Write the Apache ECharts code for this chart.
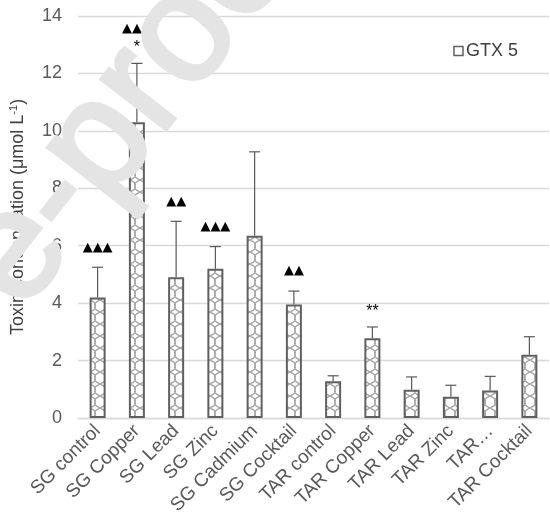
<!DOCTYPE html>
<html>
<head>
<meta charset="utf-8">
<script src="https://cdn.jsdelivr.net/npm/echarts@6/dist/echarts.min.js"></script>
<style>
  html, body { margin: 0; padding: 0; background: #fff; }
  #chart { width: 550px; height: 529px; }
</style>
</head>
<body>
<div id="chart"></div>
<script>
// Treatments on the x axis
const categories = ['SG control', 'SG Copper', 'SG Lead', 'SG Zinc', 'SG Cadmium', 'SG Cocktail',
  'TAR control', 'TAR Copper', 'TAR Lead', 'TAR Zinc', 'TAR Cadmium', 'TAR Cocktail'];
// Labels printed under the axis (one name is cut short)
const tickLabels = ['SG control', 'SG Copper', 'SG Lead', 'SG Zinc', 'SG Cadmium', 'SG Cocktail',
  'TAR control', 'TAR Copper', 'TAR Lead', 'TAR Zinc', 'TAR…', 'TAR Cocktail'];
// GTX 5 mean concentration (µmol L-1)
const gtx5 = [4.2, 10.3, 4.9, 5.2, 6.35, 3.95, 1.28, 2.78, 0.98, 0.74, 0.96, 2.2];
// Upper error (standard deviation)
const gtx5Err = [1.05, 2.05, 1.95, 0.77, 2.92, 0.47, 0.19, 0.39, 0.45, 0.40, 0.49, 0.63];
// Significance marks: number of triangles and of asterisks per treatment
const triangles = [3, 3, 2, 3, 0, 2, 0, 0, 0, 0, 0, 0];
const asterisks = [0, 1, 0, 0, 0, 0, 0, 2, 0, 0, 0, 0];
// y axis ticks
const yMin = 0, yMax = 14, yStep = 2;

// Hatched fill for the bars
function makePattern() {
  const c = document.createElement('canvas');
  c.width = 10; c.height = 12;
  const g = c.getContext('2d');
  g.fillStyle = '#ffffff';
  g.fillRect(0, 0, 10, 12);
  g.strokeStyle = '#a6a6a6';
  g.lineWidth = 1.2;
  g.beginPath();
  g.moveTo(0, 0); g.quadraticCurveTo(7, 3, 5, 6); g.quadraticCurveTo(3, 9, 10, 12);
  g.moveTo(10, 0); g.quadraticCurveTo(3, 3, 5, 6); g.quadraticCurveTo(7, 9, 0, 12);
  g.stroke();
  return c;
}

function markText(i) {
  const parts = [];
  if (triangles[i]) parts.push('{tri|' + '▲'.repeat(triangles[i]) + '}');
  if (asterisks[i]) parts.push('{ast|' + '*'.repeat(asterisks[i]) + '}');
  return parts.join('\n');
}

const errData = categories.map((c, i) => [i, gtx5[i], gtx5Err[i]]);

const chart = echarts.init(document.getElementById('chart'), null, { renderer: 'canvas' });
const font = 'Liberation Sans, Arial, sans-serif';

chart.setOption({
  animation: false,
  textStyle: { fontFamily: font },
  grid: { left: 77, right: 1, top: 16, bottom: 111, containLabel: false },
  legend: {
    right: 27, top: 37,
    itemWidth: 9, itemHeight: 9, itemGap: 4,
    textStyle: { fontSize: 18, color: '#404040', fontFamily: font, padding: [0, 0, 0, -2] },
    data: [{ name: 'GTX 5', icon: 'rect', itemStyle: { color: '#fff', borderColor: '#606060', borderWidth: 1.5 } }]
  },
  xAxis: {
    type: 'category',
    data: categories,
    axisLine: { lineStyle: { color: '#d9d9d9', width: 1.3 } },
    axisTick: { show: false },
    axisLabel: {
      rotate: 45, interval: 0, margin: 10,
      fontSize: 19, color: '#595959',
      formatter: (v, i) => tickLabels[i]
    }
  },
  yAxis: {
    type: 'value',
    min: yMin, max: yMax, interval: yStep,
    name: 'Toxin concentration (μmol L{sup|-1})',
    nameLocation: 'middle', nameGap: 50, nameRotate: 90,
    nameTextStyle: {
      fontSize: 18, color: '#404040',
      rich: { sup: { fontSize: 11, verticalAlign: 'top', padding: [0, 0, 9, 0], color: '#404040' } }
    },
    axisLine: { show: false },
    axisTick: { show: false },
    axisLabel: { fontSize: 18, color: '#595959', margin: 16 },
    splitLine: { lineStyle: { color: '#d9d9d9', width: 1.3 } }
  },
  series: [
    {
      name: 'GTX 5',
      type: 'bar',
      data: gtx5,
      barWidth: 16,
      itemStyle: {
        color: { image: makePattern(), repeat: 'repeat' },
        borderColor: '#606060', borderWidth: 2
      },
      z: 2
    },
    {
      name: 'err',
      type: 'custom',
      data: errData,
      z: 3,
      renderItem: function (params, api) {
        const i = api.value(0);
        const mean = api.value(1), err = api.value(2);
        const p1 = api.coord([i, mean]);
        const p2 = api.coord([i, mean + err]);
        const st = { stroke: '#595959', lineWidth: 1.2 };
        const children = [
          { type: 'line', shape: { x1: p1[0], y1: p1[1], x2: p2[0], y2: p2[1] }, style: st },
          { type: 'line', shape: { x1: p2[0] - 5.5, y1: p2[1], x2: p2[0] + 5.5, y2: p2[1] }, style: st }
        ];
        const t = markText(i);
        if (t) {
          children.push({
            type: 'text',
            x: p2[0], y: p2[1] - 8,
            style: {
              text: t, align: 'center', verticalAlign: 'bottom',
              rich: {
                tri: { fontFamily: 'DejaVu Sans', fontSize: 13, color: '#000', lineHeight: 24 },
                ast: { fontFamily: font, fontSize: 16, color: '#595959', lineHeight: 15 }
              }
            }
          });
        }
        return { type: 'group', children: children };
      }
    }
  ],
  graphic: [{
    type: 'text',
    x: -12, y: 288,
    rotation: 52 * Math.PI / 180,
    z: 100,
    silent: true,
    style: {
      text: 'e-proof',
      font: 'normal 155px "Liberation Sans", Arial, sans-serif',
      fill: '#e4e4e4',
      stroke: '#e4e4e4', lineWidth: 4,
      align: 'left', verticalAlign: 'middle'
    }
  }]
});
</script>
</body>
</html>
